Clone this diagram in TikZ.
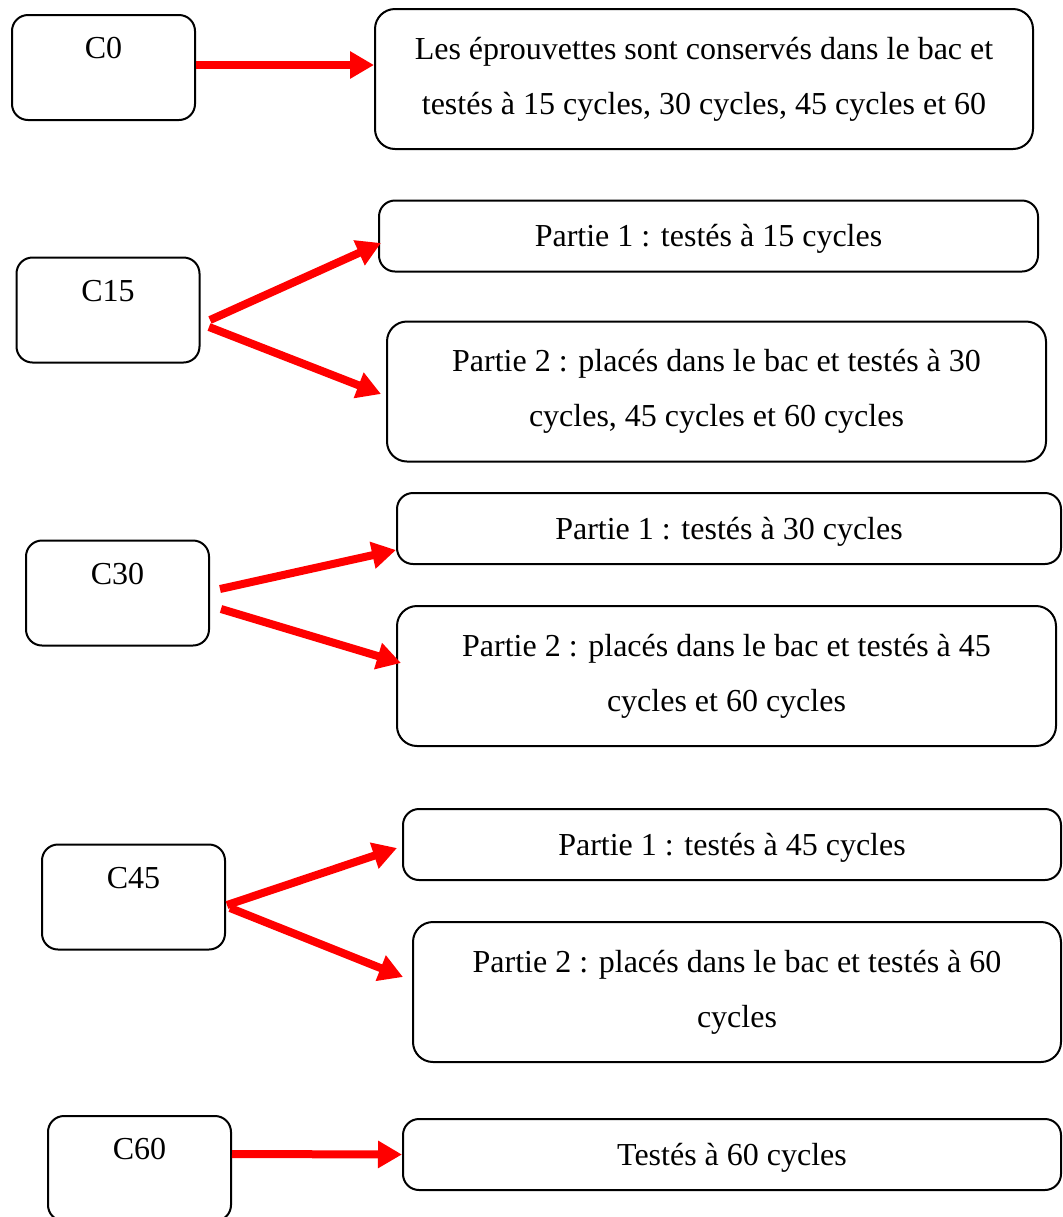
\documentclass[tikz,border=0pt]{standalone}
\usepackage{fontspec}
\setmainfont{Liberation Serif}
\usepackage{tikz}
\usetikzlibrary{arrows.meta, positioning}
\tikzset{
    cycbox/.style={rectangle, rounded corners=8pt, draw=black, line width=1pt, inner sep=0pt, minimum width=91.5pt, text height=21.75pt, text depth=30.75pt, font=\fontsize{16}{27.5}\selectfont},
    txtbox/.style={rectangle, rounded corners=8pt, draw=black, line width=1pt, align=center, inner sep=0pt, font=\fontsize{16}{27.5}\selectfont},
    partbox/.style={txtbox, minimum height=35.5pt, text height=14pt, text depth=3.4pt},
    bigbox/.style={txtbox, rounded corners=10pt, minimum height=70pt},
    arrow/.style={draw=red, line width=4pt, -{Triangle[length=12pt, width=13pt]}}
}

\begin{document}
\begin{tikzpicture}[x=0.5pt, y=-0.5pt]
        \useasboundingbox (0,0) rectangle (1062,1217);

        % C0: kept in the tank
        \node (c0) [cycbox] at (103.5, 67.5) {C0};
        \node (b0) [bigbox, minimum width=329pt] at (704, 79) {Les éprouvettes sont conservés dans le bac et\\testés à 15 cycles, 30 cycles, 45 cycles et 60};

        % C15
        \node (c15) [cycbox] at (108, 310) {C15};
        \node (b15a) [partbox, minimum width=329.5pt] at (708.5, 236) {Partie 1 : testés à 15 cycles};
        \node (b15b) [bigbox, minimum width=329.5pt] at (716.5, 391.5) {Partie 2 : placés dans le bac et testés à 30\\cycles, 45 cycles et 60 cycles};
        \coordinate (o15a) at (210, 320);
        \coordinate (o15b) at (209, 327);

        % C30
        \node (c30) [cycbox] at (117.5, 593) {C30};
        \node (b30a) [partbox, minimum width=332pt] at (729, 528.5) {Partie 1 : testés à 30 cycles};
        \node (b30b) [bigbox, minimum width=329.5pt] at (726.5, 676) {Partie 2 : placés dans le bac et testés à 45\\cycles et 60 cycles};
        \coordinate (o30a) at (220, 589);
        \coordinate (o30b) at (221, 609);

        % C45
        \node (c45) [cycbox] at (133.5, 897) {C45};
        \node (b45a) [partbox, minimum width=329pt] at (732, 844.5) {Partie 1 : testés à 45 cycles};
        \node (b45b) [bigbox, minimum width=324pt] at (737, 992) {Partie 2 : placés dans le bac et testés à 60\\cycles};
        \coordinate (o45a) at (227, 905);
        \coordinate (o45b) at (230, 908);

        % C60
        \node (c60) [cycbox] at (139.5, 1168.5) {C60};
        \node (b60) [partbox, minimum width=329pt] at (732, 1154.5) {Testés à 60 cycles};

        % Arrows
        \draw[arrow] (c0.east |- 0,65) -- (b0.west |- 0,65);
        \draw[arrow] (o15a) -- ([xshift=1.5pt, yshift=-3.5pt]b15a.west);
        \draw[arrow] (o15b) -- ([xshift=-2.5pt, yshift=-1.25pt]b15b.west);
        \draw[arrow] (o30a) -- ([yshift=-10.75pt]b30a.west);
        \draw[arrow] (o30b) -- ([xshift=2.5pt, yshift=6.5pt]b30b.west);
        \draw[arrow] (o45a) -- ([xshift=-2.5pt, yshift=-1.75pt]b45a.west);
        \draw[arrow] (o45b) -- ([xshift=-4.5pt, yshift=7.5pt]b45b.west);
        \draw[arrow] (c60.east |- 0,1154) -- (b60.west);
    \end{tikzpicture}
\end{document}
